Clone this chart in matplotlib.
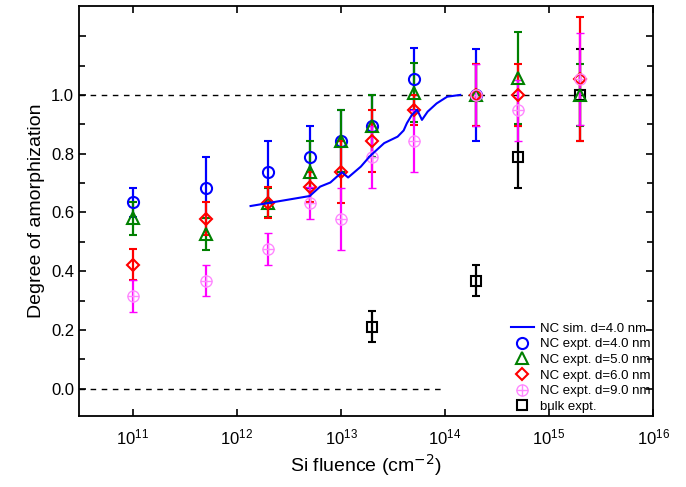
import numpy as np
import matplotlib
matplotlib.use("Agg")
import matplotlib.pyplot as plt
from matplotlib.ticker import FixedLocator, NullLocator, FuncFormatter, LogLocator
from matplotlib.legend_handler import HandlerTuple
from matplotlib.lines import Line2D

plt.rcParams['font.family'] = ['Liberation Sans', 'DejaVu Sans']

# simulation curve (d = 4.0 nm)
sim_fluence = [1.35e12, 5.0e12, 6.3e12, 7.9e12, 1.02e13, 1.17e13, 1.55e13, 1.9e13,
               2.6e13, 3.5e13, 4.0e13, 4.3e13, 4.8e13, 5.4e13, 6.0e13, 6.8e13,
               8.3e13, 1.05e14, 1.4e14]
sim_y = [0.622, 0.656, 0.688, 0.702, 0.737, 0.719, 0.756, 0.792, 0.836, 0.858,
         0.879, 0.904, 0.932, 0.949, 0.915, 0.943, 0.971, 0.994, 1.0]

# NC expt. d=4.0 nm
d4_x = [1e11, 5e11, 2e12, 5e12, 1e13, 2e13, 5e13, 2e14]
d4_y = [0.634, 0.685, 0.738, 0.789, 0.843, 0.895, 1.054, 1.0]
d4_err = [0.05, 0.105, 0.105, 0.105, 0.105, 0.105, 0.105, 0.157]

# NC expt. d=5.0 nm
d5_x = [1e11, 5e11, 2e12, 5e12, 1e13, 2e13, 5e13, 2e14, 5e14, 2e15]
d5_y = [0.58, 0.527, 0.633, 0.738, 0.843, 0.895, 1.007, 1.0, 1.057, 1.0]
d5_err = [0.055, 0.053, 0.05, 0.105, 0.105, 0.105, 0.1, 0.105, 0.157, 0.105]

# NC expt. d=6.0 nm
d6_x = [1e11, 5e11, 2e12, 5e12, 1e13, 2e13, 5e13, 2e14, 5e14, 2e15]
d6_y = [0.422, 0.579, 0.633, 0.687, 0.738, 0.843, 0.949, 1.0, 1.0, 1.054]
d6_err = [0.053, 0.055, 0.053, 0.05, 0.105, 0.105, 0.05, 0.105, 0.105, 0.21]

# NC expt. d=9.0 nm
d9_x = [1e11, 5e11, 2e12, 5e12, 1e13, 2e13, 5e13, 2e14, 5e14, 2e15]
d9_y = [0.316, 0.368, 0.476, 0.633, 0.578, 0.789, 0.843, 1.0, 0.947, 1.054]
d9_err = [0.053, 0.053, 0.053, 0.055, 0.105, 0.105, 0.105, 0.105, 0.105, 0.157]

# bulk expt.
bulk_x = [2e13, 2e14, 5e14, 2e15]
bulk_y = [0.212, 0.368, 0.79, 1.0]
bulk_err = [0.053, 0.053, 0.105, 0.157]

fig = plt.figure(figsize=(6.86, 4.87), dpi=100)
ax = fig.add_axes([0.115, 0.146, 0.837, 0.842])

ax.set_xscale('log')
ax.set_xlim(10**10.48, 1e16)
ax.set_ylim(-0.092, 1.303)

# reference lines
ax.plot([10**10.48, 1e16], [1.0, 1.0], 'k--', lw=1.0, dashes=(4, 4), zorder=1)
ax.plot([10**10.48, 1e14], [0.0, 0.0], 'k--', lw=1.0, dashes=(4, 4), zorder=1)

eb = dict(capsize=3, elinewidth=1.6, capthick=1.4,
          markerfacecolor='none', markeredgewidth=1.5, linestyle='none')

ax.errorbar(bulk_x, bulk_y, yerr=bulk_err, marker='s', color='black', markersize=7.5, **eb)
ax.errorbar(d4_x, d4_y, yerr=d4_err, marker='o', color='#0000ff', markersize=8, **eb)
ax.errorbar(d5_x, d5_y, yerr=d5_err, marker='^', color='#008000', markersize=8, **eb)
ax.errorbar(d6_x, d6_y, yerr=d6_err, marker='D', color='#ff0000', markersize=6.5, **eb)
ax.errorbar(d9_x, d9_y, yerr=d9_err, marker='o', color='#ff00ff', mec='#ff88ff',
            markersize=8, **{k: v for k, v in eb.items() if k != 'markeredgewidth'}, mew=1.0)
ax.plot(d9_x, d9_y, marker='+', linestyle='none', color='#ff88ff', markersize=8, mew=1.0)

sim_line, = ax.plot(sim_fluence, sim_y, color='#0000ff', lw=1.5, zorder=5)

# ticks
ax.xaxis.set_major_locator(LogLocator(base=10, numticks=20))
ax.xaxis.set_minor_locator(NullLocator())
ax.yaxis.set_major_locator(FixedLocator([0.0, 0.2, 0.4, 0.6, 0.8, 1.0, 1.2]))
ax.yaxis.set_minor_locator(FixedLocator([0.1, 0.3, 0.5, 0.7, 0.9, 1.1]))
ax.yaxis.set_major_formatter(FuncFormatter(lambda v, p: '' if v > 1.05 else '%.1f' % v))
ax.tick_params(which='both', direction='in', top=True, right=True, labelsize=12, width=1.2)
ax.tick_params(which='major', length=5)
ax.tick_params(which='minor', length=4)
ax.tick_params(axis='x', pad=8)
for s in ax.spines.values():
    s.set_linewidth(1.3)

ax.set_xlabel('Si fluence (cm$^{-2}$)', fontsize=14)
ax.set_ylabel('Degree of amorphization', fontsize=14)

# legend
h_d4 = Line2D([], [], marker='o', ls='none', color='#0000ff', mfc='none', mew=1.5, ms=8)
h_d5 = Line2D([], [], marker='^', ls='none', color='#008000', mfc='none', mew=1.5, ms=8)
h_d6 = Line2D([], [], marker='D', ls='none', color='#ff0000', mfc='none', mew=1.5, ms=6.5)
h_d9a = Line2D([], [], marker='o', ls='none', color='#ff88ff', mfc='none', mew=1.0, ms=8)
h_d9b = Line2D([], [], marker='+', ls='none', color='#ff88ff', mew=1.0, ms=8)
h_bulk = Line2D([], [], marker='s', ls='none', color='black', mfc='none', mew=1.5, ms=7.5)
ax.legend([sim_line, h_d4, h_d5, h_d6, (h_d9a, h_d9b), h_bulk],
          ['NC sim. d=4.0 nm', 'NC expt. d=4.0 nm', 'NC expt. d=5.0 nm',
           'NC expt. d=6.0 nm', 'NC expt. d=9.0 nm', 'bulk expt.'],
          handler_map={tuple: HandlerTuple(ndivide=1, pad=0)},
          loc='lower right', bbox_to_anchor=(1.004, -0.006), frameon=False,
          fontsize=9.5, handlelength=1.7, handletextpad=0.45,
          labelspacing=0.26, borderaxespad=0.0)

fig.savefig('out.png', dpi=100)
